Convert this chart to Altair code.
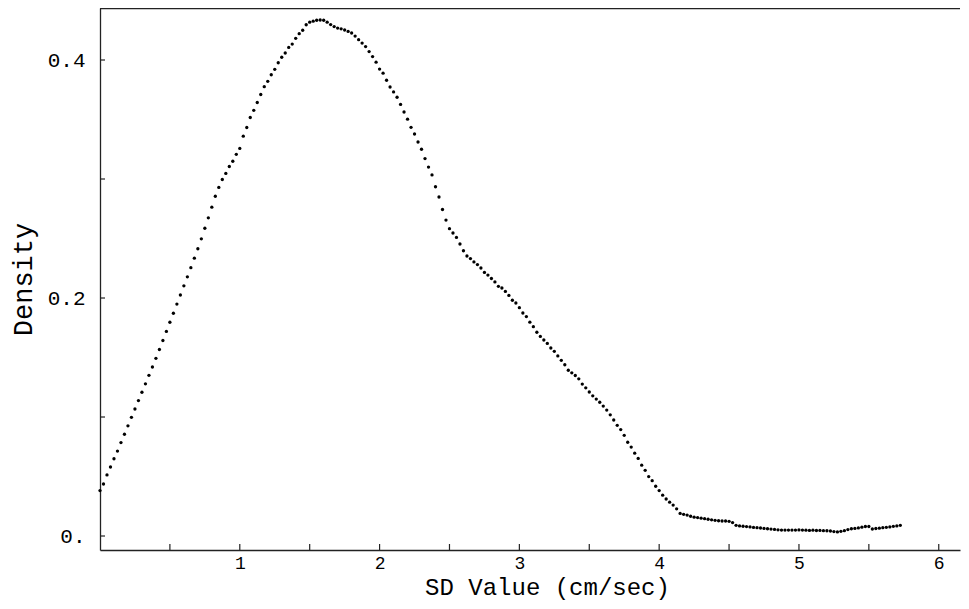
import altair as alt
import pandas as pd

# Sampled SD values (cm/sec): start 0, step 0.025
x_start = 0.0
x_step = 0.025
density = [
    0.0382, 0.0437, 0.0513, 0.0580, 0.0649, 0.0714, 0.0785, 0.0855, 0.0926, 0.0997,
    0.1067, 0.1138, 0.1208, 0.1279, 0.1350, 0.1420, 0.1493, 0.1567, 0.1643, 0.1719,
    0.1796, 0.1872, 0.1949, 0.2025, 0.2102, 0.2178, 0.2255, 0.2335, 0.2414, 0.2497,
    0.2586, 0.2674, 0.2763, 0.2855, 0.2929, 0.2996, 0.3047, 0.3105, 0.3149, 0.3207,
    0.3257, 0.3360, 0.3433, 0.3517, 0.3577, 0.3643, 0.3710, 0.3776, 0.3821, 0.3876,
    0.3922, 0.3977, 0.4023, 0.4059, 0.4106, 0.4134, 0.4182, 0.4221, 0.4250, 0.4296,
    0.4318, 0.4326, 0.4334, 0.4336, 0.4334, 0.4318, 0.4298, 0.4281, 0.4268, 0.4262,
    0.4252, 0.4240, 0.4227, 0.4201, 0.4171, 0.4142, 0.4113, 0.4071, 0.4029, 0.3982,
    0.3924, 0.3889, 0.3830, 0.3773, 0.3732, 0.3687, 0.3627, 0.3563, 0.3503, 0.3434,
    0.3378, 0.3311, 0.3250, 0.3172, 0.3100, 0.3034, 0.2935, 0.2849, 0.2744, 0.2655,
    0.2583, 0.2546, 0.2509, 0.2454, 0.2397, 0.2353, 0.2331, 0.2303, 0.2281, 0.2252,
    0.2215, 0.2193, 0.2164, 0.2135, 0.2098, 0.2084, 0.2055, 0.2022, 0.1981, 0.1958,
    0.1919, 0.1874, 0.1844, 0.1797, 0.1759, 0.1712, 0.1677, 0.1647, 0.1618, 0.1580,
    0.1552, 0.1513, 0.1476, 0.1439, 0.1393, 0.1371, 0.1349, 0.1321, 0.1277, 0.1245,
    0.1210, 0.1178, 0.1151, 0.1124, 0.1092, 0.1058, 0.1018, 0.0975, 0.0930, 0.0894,
    0.0846, 0.0788, 0.0747, 0.0696, 0.0652, 0.0595, 0.0552, 0.0499, 0.0465, 0.0418,
    0.0382, 0.0343, 0.0311, 0.0284, 0.0260, 0.0228, 0.0190, 0.0182, 0.0176, 0.0166,
    0.0158, 0.0155, 0.0150, 0.0146, 0.0141, 0.0136, 0.0132, 0.0128, 0.0126, 0.0126,
    0.0123, 0.0113, 0.0090, 0.0085, 0.0082, 0.0079, 0.0076, 0.0072, 0.0070, 0.0067,
    0.0064, 0.0061, 0.0058, 0.0055, 0.0052, 0.0050, 0.0050, 0.0050, 0.0050, 0.0050,
    0.0051, 0.0050, 0.0049, 0.0047, 0.0049, 0.0046, 0.0047, 0.0045, 0.0044, 0.0042,
    0.0037, 0.0034, 0.0039, 0.0045, 0.0054, 0.0061, 0.0064, 0.0068, 0.0074, 0.0080,
    0.0080, 0.0059, 0.0063, 0.0066, 0.0070, 0.0073, 0.0076, 0.0081, 0.0085, 0.0090,
]
sd_values = [round(x_start + i * x_step, 3) for i in range(len(density))]

x_tick_labels = [1, 2, 3, 4, 5, 6]
x_tick_marks = [0.5, 1, 1.5, 2, 2.5, 3, 3.5, 4, 4.5, 5, 5.5, 6]
y_tick_labels = [0, 0.2, 0.4]
y_tick_marks = [0, 0.1, 0.2, 0.3, 0.4]

X_DOMAIN = [0, 6.152]
Y_DOMAIN = [-0.01176, 0.4437]
W, H = 860, 542
FONT = "Liberation Mono"

df = pd.DataFrame({"sd": sd_values, "density": density})
xt = pd.DataFrame({"sd": x_tick_marks})
yt = pd.DataFrame({"density": y_tick_marks})

xscale = alt.Scale(domain=X_DOMAIN, nice=False, zero=False)
yscale = alt.Scale(domain=Y_DOMAIN, nice=False, zero=False)

x_axis = alt.Axis(values=x_tick_labels, title="SD Value (cm/sec)", grid=False,
                  ticks=False, tickSize=0, labelPadding=4, labelFontSize=18,
                  labelFont=FONT, labelColor="black", labelFlush=False,
                  domainColor="#222", domainWidth=1.3,
                  titleFont=FONT, titleFontSize=24, titleFontWeight="normal",
                  titleColor="black", titleX=447, titleY=44,
                  titleBaseline="alphabetic")
y_axis = alt.Axis(values=y_tick_labels, title="Density", grid=False,
                  ticks=False, tickSize=0, labelPadding=15, labelFontSize=21,
                  labelFont=FONT, labelColor="black", labelFlush=False,
                  labelExpr="datum.value == 0 ? '0.' : format(datum.value, '.1f')",
                  domainColor="#222", domainWidth=1.3,
                  titleFont=FONT, titleFontSize=27, titleFontWeight="normal",
                  titleColor="black", titleX=-77, titleY=271,
                  titleBaseline="middle", titleAngle=-90)

points = alt.Chart(df).mark_circle(size=11, color="black", opacity=1).encode(
    x=alt.X("sd:Q", scale=xscale, axis=x_axis),
    y=alt.Y("density:Q", scale=yscale, axis=y_axis),
)

xticks = alt.Chart(xt).mark_rule(color="#222", strokeWidth=1.2).encode(
    x=alt.X("sd:Q", scale=xscale, axis=x_axis),
    y=alt.value(H),
    y2=alt.value(H - 6),
)

yticks = alt.Chart(yt).mark_rule(color="#222", strokeWidth=1.2).encode(
    y=alt.Y("density:Q", scale=yscale, axis=y_axis),
    x=alt.value(0),
    x2=alt.value(5),
)

top_line = alt.Chart(pd.DataFrame({"a": [0]})).mark_rule(color="#222", strokeWidth=1.3).encode(
    x=alt.value(0), x2=alt.value(W), y=alt.value(0.5)
)

chart = alt.layer(points, xticks, yticks, top_line).properties(
    width=W, height=H,
    autosize=alt.AutoSizeParams(type="none"),
    padding={"left": 92, "top": 0, "right": 1, "bottom": 51},
    background="white",
).configure_view(stroke=None)

chart.save("out.html", embed_options={"renderer": "svg", "actions": False})
